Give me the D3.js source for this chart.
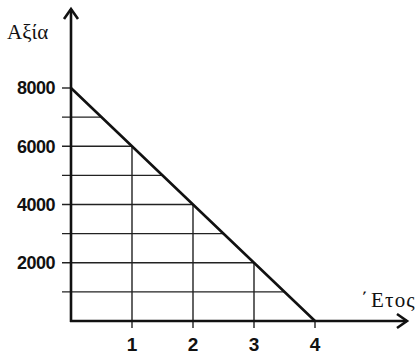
<!DOCTYPE html>
<html>
<head>
<meta charset="utf-8">
<script src="https://cdn.jsdelivr.net/npm/d3@7/dist/d3.min.js"></script>
<style>
  html, body { margin: 0; padding: 0; background: #fff; }
  svg { display: block; }
</style>
</head>
<body>
<svg id="chart" width="420" height="355"></svg>
<script>
// Straight-line depreciation: value by year
const years = [0, 1, 2, 3, 4];
const values = [8000, 6000, 4000, 2000, 0];
const yTickLabels = [2000, 4000, 6000, 8000];
const gridValues = [1000, 2000, 3000, 4000, 5000, 6000, 7000, 8000];
const xTickLabels = [1, 2, 3, 4];
const yTitle = "Αξία";
const xTitleAccent = "΄";
const xTitle = "Ετος";

const svg = d3.select("#chart");
const ink = "#111";

const x = d3.scaleLinear().domain([0, 4]).range([71, 315]);
const y = d3.scaleLinear().domain([0, 8000]).range([321, 88]);

// year at which the line reaches a given value, and value at a given year
const yearAt = d3.scaleLinear().domain(values).range(years);
const valueAt = d3.scaleLinear().domain(years).range(values);

const g = svg.append("g");

// horizontal grid lines from the tick to the line
g.selectAll("line.hgrid")
  .data(gridValues)
  .join("line")
  .attr("class", "hgrid")
  .attr("x1", 62)
  .attr("x2", d => x(yearAt(d)))
  .attr("y1", d => y(d))
  .attr("y2", d => y(d))
  .attr("stroke", "#222")
  .attr("stroke-width", 1.4);

// vertical grid lines from below the axis up to the line
g.selectAll("line.vgrid")
  .data(xTickLabels)
  .join("line")
  .attr("class", "vgrid")
  .attr("x1", d => x(d))
  .attr("x2", d => x(d))
  .attr("y1", 328)
  .attr("y2", d => y(valueAt(d)))
  .attr("stroke", "#222")
  .attr("stroke-width", 1.4);

// axes
g.append("line")
  .attr("x1", x(0)).attr("x2", x(0))
  .attr("y1", 9).attr("y2", y(0) + 1)
  .attr("stroke", ink).attr("stroke-width", 2.6);
g.append("line")
  .attr("x1", x(0) - 1).attr("x2", 407)
  .attr("y1", y(0)).attr("y2", y(0))
  .attr("stroke", ink).attr("stroke-width", 2.6);

// arrowheads
g.append("path")
  .attr("d", `M${x(0) - 7},${19} L${x(0)},${9} L${x(0) + 7},${19}`)
  .attr("fill", "none").attr("stroke", ink).attr("stroke-width", 2.6)
  .attr("stroke-linejoin", "miter");
g.append("path")
  .attr("d", `M${397},${y(0) - 7} L${407},${y(0)} L${397},${y(0) + 7}`)
  .attr("fill", "none").attr("stroke", ink).attr("stroke-width", 2.6)
  .attr("stroke-linejoin", "miter");

// value line
const line = d3.line().x((d, i) => x(years[i])).y(d => y(d));
g.append("path")
  .datum(values)
  .attr("d", line)
  .attr("fill", "none")
  .attr("stroke", ink)
  .attr("stroke-width", 2.6);

// tick labels
g.selectAll("text.ylab")
  .data(yTickLabels)
  .join("text")
  .attr("class", "ylab")
  .attr("x", 55)
  .attr("y", d => y(d))
  .attr("dy", "0.36em")
  .attr("text-anchor", "end")
  .attr("font-family", "'Liberation Sans', Arial, sans-serif")
  .attr("font-weight", "bold")
  .attr("font-size", 18)
  .attr("letter-spacing", -0.5)
  .attr("fill", ink)
  .text(d => d);

g.selectAll("text.xlab")
  .data(xTickLabels)
  .join("text")
  .attr("class", "xlab")
  .attr("x", d => x(d))
  .attr("y", 351)
  .attr("text-anchor", "middle")
  .attr("font-family", "'Liberation Sans', Arial, sans-serif")
  .attr("font-weight", "bold")
  .attr("font-size", 19)
  .attr("fill", ink)
  .text(d => d);

// axis titles
g.append("text")
  .attr("x", 7).attr("y", 39)
  .attr("font-family", "'Liberation Serif', 'DejaVu Serif', serif")
  .attr("font-size", 21)
  .attr("fill", ink)
  .text(yTitle);

const xt = g.append("text")
  .attr("x", 361).attr("y", 307)
  .attr("font-family", "'Liberation Serif', 'DejaVu Serif', serif")
  .attr("font-size", 21)
  .attr("fill", ink);
xt.append("tspan").text(xTitleAccent);
xt.append("tspan").attr("x", 371).attr("letter-spacing", 1.2).text(xTitle);
</script>
</body>
</html>
